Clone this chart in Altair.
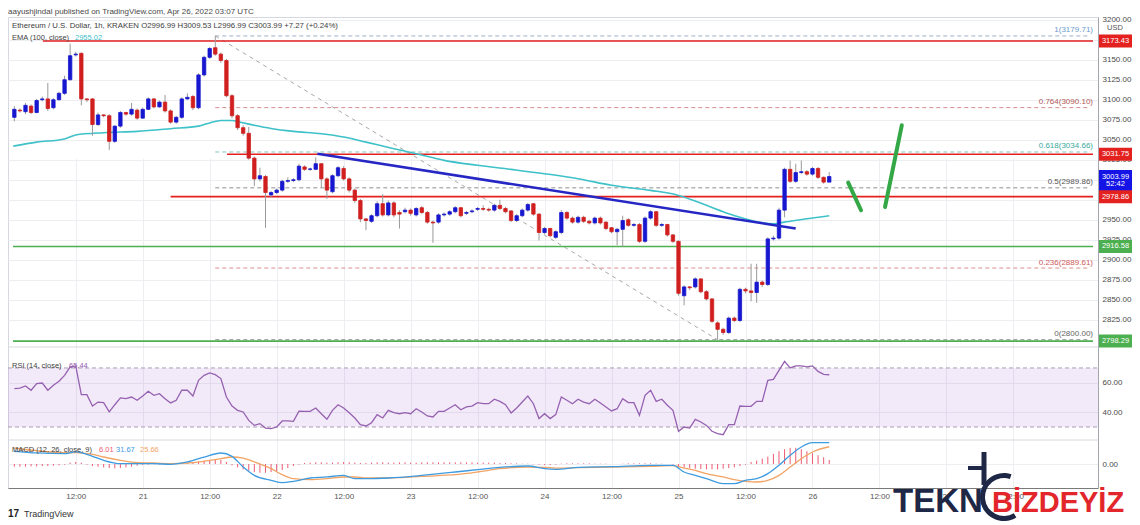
import altair as alt
import pandas as pd

# ---------------- data ----------------
open_ = [3078, 3087, 3085, 3092, 3084, 3100, 3101, 3090, 3100, 3108,
         3125, 3156, 3158, 3101, 3101, 3069, 3081, 3080, 3048, 3067,
         3084, 3082, 3087, 3077, 3088, 3101, 3091, 3097, 3086, 3072,
         3078, 3101, 3104, 3090, 3131, 3153, 3165, 3157, 3149, 3105,
         3080, 3065, 3058, 3027, 3001, 3004, 2981, 2984, 2987, 2998,
         2999, 3000, 3016, 3013, 3013, 3020, 3001, 2985, 3005, 3014,
         3001, 2987, 2974, 2951, 2948, 2955, 2970, 2956, 2971, 2959,
         2960, 2962, 2956, 2965, 2959, 2947, 2947, 2956, 2957, 2960,
         2965, 2958, 2960, 2963, 2964, 2963, 2962, 2968, 2964, 2961,
         2949, 2955, 2962, 2970, 2957, 2934, 2939, 2928, 2934, 2959,
         2952, 2947, 2953, 2948, 2946, 2952, 2947, 2940, 2935, 2938,
         2950, 2943, 2944, 2923, 2952, 2960, 2943, 2944, 2931, 2923,
         2855, 2866, 2866, 2876, 2860, 2851, 2821, 2813, 2809, 2827,
         2824, 2863, 2861, 2859, 2872, 2869, 2926, 2927, 2962, 3013,
         2998, 3009, 3010, 3007, 3014, 3003, 2996.99]
high = [3092, 3089, 3096, 3094, 3101, 3104, 3121, 3102, 3110, 3130,
        3170, 3160, 3159, 3102, 3102, 3084, 3082, 3082, 3068, 3086,
        3085, 3096, 3089, 3090, 3103, 3102, 3099, 3106, 3088, 3080,
        3103, 3108, 3106, 3133, 3155, 3166, 3179.71, 3159, 3151, 3107,
        3082, 3068, 3066, 3029, 3015, 3006, 2986, 2989, 3000, 3003,
        3002, 3020, 3018, 3015, 3028, 3021, 3003, 3007, 3017, 3017,
        3003, 2989, 2976, 2952, 2957, 2973, 2982, 2974, 2973, 2962,
        2965, 2964, 2966, 2967, 2961, 2949, 2958, 2959, 2962, 2967,
        2966, 2961, 2963, 2966, 2968, 2965, 2970, 2975, 2966, 2962,
        2957, 2964, 2971, 2971, 2958, 2941, 2940, 2937, 2962, 2961,
        2954, 2955, 2955, 2950, 2954, 2954, 2948, 2941, 2940, 2955,
        2952, 2946, 2946, 2954, 2962, 2961, 2946, 2945, 2932, 2924,
        2868, 2867, 2878, 2877, 2862, 2852, 2823, 2815, 2829, 2829,
        2865, 2865, 2895, 2895, 2874, 2928, 2930, 2965, 3015, 3024,
        3020, 3024, 3012, 3016, 3016, 3004, 3009.53]
low = [3073, 3084, 3082, 3082, 3083, 3098, 3086, 3088, 3099, 3106,
       3124, 3154, 3093, 3097, 3055, 3067, 3078, 3037, 3046, 3065,
       3080, 3080, 3075, 3076, 3087, 3089, 3090, 3084, 3070, 3070,
       3076, 3100, 3087, 3088, 3129, 3151, 3155, 3146, 3103, 3077,
       3062, 3055, 3025, 2992, 2998, 2940, 2978, 2982, 2985, 2996,
       2997, 2998, 3011, 3011, 3012, 2990, 2976, 2983, 3003, 2999,
       2984, 2971, 2947, 2937, 2946, 2953, 2954, 2954, 2953, 2939,
       2958, 2955, 2954, 2957, 2945, 2921, 2945, 2954, 2955, 2958,
       2953, 2956, 2958, 2961, 2961, 2960, 2960, 2962, 2958, 2947,
       2947, 2953, 2960, 2955, 2924, 2932, 2928, 2926, 2932, 2950,
       2945, 2945, 2946, 2944, 2944, 2944, 2937, 2933, 2918, 2916,
       2941, 2941, 2921, 2921, 2950, 2941, 2941, 2929, 2921, 2855,
       2843, 2862, 2864, 2858, 2849, 2821, 2800, 2806, 2807, 2822,
       2822, 2858, 2848, 2846, 2866, 2867, 2924, 2925, 2953, 2996,
       2996, 3007, 3005, 3005, 3001, 2995, 2996.99]
close = [3088, 3086, 3093, 3084, 3099, 3101, 3089, 3100, 3108, 3125,
         3155, 3157, 3101, 3100, 3069, 3081, 3080, 3048, 3067, 3084,
         3082, 3088, 3077, 3088, 3101, 3091, 3097, 3086, 3072, 3078,
         3101, 3103, 3090, 3131, 3153, 3164, 3157, 3149, 3105, 3080,
         3065, 3058, 3027, 3001, 3005, 2984, 2984, 2987, 2998, 2999,
         3000, 3017, 3013, 3013.5, 3020, 3001, 2987, 3005, 3015, 3001,
         2987, 2974, 2951, 2949, 2955, 2970, 2956, 2971, 2956, 2957,
         2962, 2958, 2964, 2959, 2947, 2946, 2956, 2957, 2960, 2965,
         2955, 2959, 2961, 2964, 2963, 2962, 2968, 2964, 2960, 2949,
         2955, 2962, 2969, 2957, 2934, 2939, 2930, 2935, 2959, 2952,
         2947, 2953, 2948, 2946, 2952, 2946, 2939, 2935, 2938, 2949,
         2943, 2944, 2923, 2952, 2960, 2943, 2944, 2931, 2923, 2858,
         2866, 2865, 2876, 2860, 2851, 2823, 2813, 2809, 2827, 2824,
         2863, 2861, 2859, 2872, 2869, 2926, 2927, 2962, 3013, 2998,
         3009, 3010, 3007, 3014, 3003, 2997, 3003.99]
hours = list(range(1, len(close) + 1))

rsi = [56.0, 56.4, 57.8, 54.9, 59.4, 59.8, 54.9, 58.3, 61.0, 65.0,
       70.7, 71.4, 51.9, 51.9, 44.2, 46.9, 46.5, 40.2, 45.1, 49.7,
       49.2, 50.3, 48.1, 51.0, 54.2, 51.5, 52.6, 49.2, 46.3, 48.1,
       54.9, 54.9, 51.0, 61.6, 65.0, 66.6, 65.5, 62.8, 50.3, 44.2,
       41.3, 40.2, 34.5, 31.1, 32.3, 29.3, 28.9, 30.0, 34.1, 34.1,
       33.8, 40.8, 40.6, 40.6, 42.9, 39.0, 35.2, 41.3, 45.1, 42.9,
       39.7, 36.1, 31.6, 30.7, 32.9, 38.4, 36.1, 41.3, 39.7, 39.0,
       39.7, 39.0, 42.4, 40.2, 37.5, 36.8, 40.6, 40.6, 42.9, 45.1,
       41.7, 43.6, 44.2, 46.5, 45.8, 45.8, 48.8, 47.4, 45.1, 39.5,
       42.9, 46.9, 51.0, 45.8, 35.7, 39.0, 35.7, 38.4, 50.3, 48.1,
       45.8, 48.8, 46.9, 45.8, 48.8, 46.3, 43.6, 40.9, 42.4, 49.2,
       46.5, 46.5, 37.9, 51.5, 54.9, 47.4, 48.8, 44.7, 41.3, 27.1,
       30.0, 29.3, 35.2, 33.4, 31.1, 27.1, 25.5, 24.8, 31.6, 31.6,
       44.2, 44.0, 44.0, 47.4, 47.4, 61.6, 62.3, 68.4, 74.5, 70.0,
       71.4, 71.4, 70.7, 71.4, 67.7, 65.7, 65.4]

hist = [-4, -4, -4, -3.5, -3.5, -3, -3, -2.5, -2, -1,
        2, 3, 2,
        -1, -3, -4, -5, -6, -6.5, -6, -5, -4, -2.5,
        -1.5, -1, -0.5, -0.5, 0.5, 0.5, 1, 1, 1.5, 2,
        4, 5, 6, 6.5, 6, 3,
        -2, -5, -8, -10, -12, -13, -13, -12, -11, -9, -6,
        -3, -1,
        1.5, 2, 2.5, 2.5, 2, 2, 2.5, 3, 2.5, 2, 1.5, 1.5, 2, 2.5, 2.5, 2, 2, 2.5, 2.5, 2, 2,
        2.5, 2.5, 2.5, 2.5, 2.5, 2.5, 2.5, 2.5, 2.5, 2.5, 2, 2, 2, 2, 1.5, 1.5, 1, 1, 0.5, 0.5,
        -0.5, -1, -1.5, -1.5, -1,
        0.5, 1, 1, 1, 1, 1, 0.5, 0.5, 0.5,
        0, 0, 0.5, 1, 1, 1, 1, 1, 0.5, 0.5, 0,
        -1, -3, -5, -6, -7, -7.5, -8, -8, -8, -7, -6, -5, -3,
        -1, 3, 5, 8, 11, 15, 19, 22, 24, 24, 22, 19, 16, 13, 10, 6.01]

ema_t = [0.8, 5, 10, 12, 17, 23, 29, 34, 36, 38, 40, 41.4, 44, 47, 51, 56, 60, 64,
         69, 73, 78, 84, 90, 96, 102, 108, 115, 120, 125, 129, 133, 137, 139, 143, 147]
ema_v = [3042, 3047, 3051, 3056, 3058.8, 3060.4, 3063.8, 3067, 3071, 3074, 3074, 3072,
         3068, 3064, 3060.4, 3057.5, 3053.4, 3047, 3038.8, 3032.5, 3024.2, 3018, 3012.9,
         3007.5, 3001.3, 2993, 2986.7, 2980.4, 2968, 2957.5, 2949.2, 2945, 2947, 2951.3, 2955.02]

macd_t = [1, 5, 10, 12, 15, 17, 20, 23, 26, 29, 32, 35, 38, 40, 42, 44, 47, 49, 51, 54,
          57, 60, 62, 64, 68, 70, 74, 80, 84, 88, 93, 96, 98, 102, 108, 115, 119, 121, 123, 125,
          128, 130, 132, 134, 136, 138, 140, 142, 144, 147]
macd_v = [18.9, 16.4, 15.4, 17.9, 11.4, 5.5, 0.5, 0.5, 0.5, -0.5, 3.0, 10.4, 16.4, 11.4, -4.5,
          -16.9, -24.3, -27.8, -25.8, -20.8, -19.3, -16.9, -21.8, -21.8, -20.8, -19.8, -16.9,
          -11.9, -8.4, -5.0, -3.0, -7.0, -7.9, -5.0, -4.0, -2.0, -2.0, -11.9, -16.9, -21.8,
          -29.3, -29.3, -24.3, -21.8, -14.4, -2.0, 12.9, 25.3, 31.7, 31.67]
signal_v = [23.8, 19.8, 16.9, 16.9, 14.4, 10.4, 5.5, 2.0, 1.5, 0.5, 1.5, 4.0, 7.9, 10.4, 8.9,
            3.0, -7.0, -15.9, -21.8, -23.3, -21.8, -19.3, -19.3, -20.8, -20.8, -20.3, -18.3,
            -15.9, -11.9, -7.0, -4.5, -5.0, -6.0, -5.5, -4.5, -3.5, -2.5, -6.0, -9.4, -14.4,
            -19.3, -23.3, -25.8, -26.8, -24.3, -16.9, -4.5, 7.9, 17.9, 25.66]

fib_labels = ["1(3179.71)", "0.764(3090.10)", "0.618(3034.66)", "0.5(2989.86)",
              "0.236(2889.61)", "0(2800.00)"]
fib_prices = [3179.71, 3090.10, 3034.66, 2989.86, 2889.61, 2800.00]
fib_line_colors = ["#9db0c8", "#d38c8c", "#80c8bf", "#8f8f8f", "#de8e8e", "#8f8f8f"]
fib_text_colors = ["#6b9cd0", "#b05858", "#3aa99c", "#555555", "#d05a5a", "#666666"]
fib_start, fib_end = 37, 193.4

level_prices = [3173.43, 3031.75, 2978.86, 2916.58, 2798.29]
level_starts = [6.1, 39.1, 29.0, 0.76, 0.76]
level_colors = ["#e3211f", "#e3211f", "#e3211f", "#4caf50", "#4caf50"]
level_labels = ["3173.43", "3031.75", "2978.86", "2916.58", "2798.29"]

trend_t = [55.3, 141.0]
trend_p = [3032.5, 2939.0]
diag_t = [37, 127]
diag_p = [3179.71, 2800.00]
pen_t1 = [150.4, 157.0]
pen_p1 = [2996.3, 2965.9]
pen_t2 = [152.7, 160.0]
pen_p2 = [2961.8, 3068.0]

grid_ticks = [2825, 2850, 2875, 2900, 2925, 2950, 2975, 3000, 3025, 3050, 3075,
              3100, 3125, 3150, 3175, 3200]
label_ticks = [2825, 2850, 2875, 2900, 2925, 2950, 3025, 3050, 3075,
               3100, 3125, 3150, 3200]
time_ticks = [12, 24, 36, 48, 60, 72, 84, 96, 108, 120, 132, 144, 156, 168, 180]

# ---------------- styling ----------------
FONT = "Liberation Sans"
W, H = 1090, 471
BLUE, RED = "#1717cf", "#d11f1f"
TXT = "#3e3e3e"

XS = alt.Scale(domain=[0.76, 194.26], nice=False, zero=False)
PS = alt.Scale(domain=[2790.9, 3203.4], range=[330, 0], nice=False, zero=False)
RS = alt.Scale(domain=[21.2, 84.2], range=[423, 330], nice=False, zero=False)
MS = alt.Scale(domain=[-35.7, 35.7], range=[471, 423], nice=False, zero=False)

XAX = alt.Axis(values=time_ticks, title=None, grid=True, gridColor="#eceef2", ticks=False,
               domainColor="#7a7a7a", labelColor="#555555", labelFontSize=8, labelFont=FONT,
               labelPadding=4, labelFlush=False, labelOverlap=False,
               labelExpr="datum.value % 24 == 0 ? '' + (20 + datum.value / 24) : '12:00'")


def yax(vals, grid=True):
    return alt.Axis(orient="right", values=vals, format=".2f", title=None, grid=grid,
                    gridColor="#eceef2", ticks=False, domainColor="#a3a6ad",
                    labelColor="#4a4a4a", labelFontSize=8, labelFont=FONT, labelPadding=4)


GRID_ONLY = alt.Axis(orient="right", values=grid_ticks, title=None, grid=True, gridColor="#eceef2",
                     ticks=False, labels=False, domain=False)


def X(f):
    return alt.X(f, type="quantitative", scale=XS, axis=XAX)


def Y(f, scale, axis=None):
    return alt.Y(f, type="quantitative", scale=scale, axis=axis)


one = pd.DataFrame({"a": [0]})
candles = pd.DataFrame({"t": hours, "o": open_, "h": high, "l": low, "c": close})
candles["dir"] = ["up" if c >= o else "down" for o, c in zip(open_, close)]
dir_scale = alt.Scale(domain=["up", "down"], range=[BLUE, RED])

layers = []

# RSI band
layers.append(alt.Chart(pd.DataFrame({"lo": [30], "hi": [70]})).mark_rect(
    color="#a060d0", opacity=0.13).encode(
    x=alt.value(0), x2=alt.value(W), y=Y("lo", RS), y2="hi"))
# panel separators
for yy in (330, 423):
    layers.append(alt.Chart(one).mark_rule(color="#d6d8dd", strokeWidth=1).encode(
        x=alt.value(0), x2=alt.value(W), y=alt.value(yy)))

# fib lines
fib_df = pd.DataFrame({"p": fib_prices, "s": fib_start, "e": fib_end,
                       "lc": fib_line_colors, "tc": fib_text_colors, "lab": fib_labels})
layers.append(alt.Chart(fib_df).mark_rule(strokeDash=[4, 3], strokeWidth=1).encode(
    x=X("s"), x2="e", y=Y("p", PS, GRID_ONLY), color=alt.Color("lc:N", scale=None)))
# diagonal fib trend
diag_df = pd.DataFrame({"t": [diag_t[0]], "t2": [diag_t[1]], "p": [diag_p[0]], "p2": [diag_p[1]]})
layers.append(alt.Chart(diag_df).mark_rule(strokeDash=[4, 4], color="#a8a8a8", strokeWidth=1).encode(
    x=X("t"), x2="t2", y=Y("p", PS), y2="p2"))

# horizontal support / resistance lines
lev_df = pd.DataFrame({"p": level_prices, "s": level_starts, "e": 194.26,
                       "col": level_colors, "lab": level_labels})
layers.append(alt.Chart(lev_df).mark_rule(strokeWidth=1.6).encode(
    x=X("s"), x2="e", y=Y("p", PS), color=alt.Color("col:N", scale=None)))

# EMA 100
ema_df = pd.DataFrame({"t": ema_t, "v": ema_v})
layers.append(alt.Chart(ema_df).mark_line(color="#3ec1c8", strokeWidth=1.6,
                                           interpolate="monotone").encode(
    x=X("t"), y=Y("v", PS)))

# candles
layers.append(alt.Chart(candles).mark_rule(color="#9a9a9a", strokeWidth=1).encode(
    x=X("t"), y=Y("l", PS), y2="h"))
layers.append(alt.Chart(candles).mark_bar(width=3.4, strokeWidth=0.8).encode(
    x=X("t"), y=Y("o", PS, yax(label_ticks, grid=False)), y2="c",
    color=alt.Color("dir:N", scale=dir_scale, legend=None),
    stroke=alt.Stroke("dir:N", scale=dir_scale, legend=None)))

# blue trend line
tr_df = pd.DataFrame({"t": [trend_t[0]], "t2": [trend_t[1]], "p": [trend_p[0]], "p2": [trend_p[1]]})
layers.append(alt.Chart(tr_df).mark_rule(color="#2626c4", strokeWidth=2.6).encode(
    x=X("t"), x2="t2", y=Y("p", PS), y2="p2"))

# green pen strokes
pen_df = pd.DataFrame({"t": pen_t1, "t2": pen_t2, "p": pen_p1, "p2": pen_p2})
layers.append(alt.Chart(pen_df).mark_rule(color="#34a846", strokeWidth=4, strokeCap="round").encode(
    x=X("t"), x2="t2", y=Y("p", PS), y2="p2"))

# RSI
layers.append(alt.Chart(pd.DataFrame({"v": [30, 70]})).mark_rule(
    strokeDash=[4, 3], color="#aa9db4", strokeWidth=1).encode(
    x=alt.value(0), x2=alt.value(W), y=Y("v", RS)))
rsi_df = pd.DataFrame({"t": hours, "r": rsi})
layers.append(alt.Chart(rsi_df).mark_line(color="#9561b0", strokeWidth=1.3).encode(
    x=X("t"), y=Y("r", RS, yax([40, 60]))))

# MACD
hist_df = pd.DataFrame({"t": hours, "h": hist, "z": 0})
layers.append(alt.Chart(hist_df).mark_rule(color="#ec5a72", strokeWidth=1).encode(
    x=X("t"), y=Y("z", MS), y2="h"))
macd_df = pd.DataFrame({"t": macd_t, "m": macd_v, "s": signal_v})
layers.append(alt.Chart(macd_df).mark_line(color="#f2a465", strokeWidth=1.3,
                                            interpolate="monotone").encode(
    x=X("t"), y=Y("s", MS)))
layers.append(alt.Chart(macd_df).mark_line(color="#3d9be0", strokeWidth=1.3,
                                            interpolate="monotone").encode(
    x=X("t"), y=Y("m", MS, yax([0]))))

# fib labels
layers.append(alt.Chart(fib_df).mark_text(align="right", baseline="bottom", dy=-1.5,
                                           fontSize=8, font=FONT).encode(
    x=alt.value(1085), y=Y("p", PS), text="lab:N", color=alt.Color("tc:N", scale=None)))

# price-axis label boxes
BOX = "M-1,-0.394H1V0.394H-1Z"
layers.append(alt.Chart(pd.DataFrame({"p": [3003.99]})).mark_point(
    shape="M-1,-0.394H1V0.94H-1Z", size=1089, filled=True, opacity=1, color="#1414e6").encode(
    x=alt.value(1107.5), y=Y("p", PS)))
layers.append(alt.Chart(lev_df).mark_point(shape=BOX, size=1089, filled=True, opacity=1).encode(
    x=alt.value(1107.5), y=Y("p", PS), color=alt.Color("col:N", scale=None)))
box_txt = pd.DataFrame({"p": level_prices + [3003.99, 2994.6],
                        "lab": level_labels + ["3003.99", "52:42"]})
layers.append(alt.Chart(box_txt).mark_text(color="white", fontSize=7.5, font=FONT,
                                            align="center", baseline="middle").encode(
    x=alt.value(1107.5), y=Y("p", PS), text="lab:N"))
layers.append(alt.Chart(pd.DataFrame({"p": [3189.6], "lab": ["USD"]})).mark_text(
    color="#555555", fontSize=7.5, font=FONT, align="center", baseline="middle").encode(
    x=alt.value(1107), y=Y("p", PS), text="lab:N"))


# texts
def txt(s, x, y, color=TXT, size=7.5, weight="normal", align="left", font=FONT, baseline="middle"):
    return alt.Chart(one).mark_text(text=s, color=color, fontSize=size, fontWeight=weight,
                                    align=align, baseline=baseline, font=font).encode(
        x=alt.value(x), y=alt.value(y))


layers += [
    txt("aayushjindal published on TradingView.com, Apr 26, 2022 03:07 UTC", 0, -5, "#4a4a4a", 8),
    txt("Ethereum / U.S. Dollar, 1h, KRAKEN  O2996.99  H3009.53  L2996.99  C3003.99  +7.27 (+0.24%)",
        4, 8.5, TXT, 7.8),
    txt("EMA (100, close)", 4, 20.5),
    txt("2955.02", 67, 20.5, "#3ec1c8"),
    txt("RSI (14, close)", 4, 349),
    txt("65.44", 61, 349, "#9561b0"),
    txt("MACD (12, 26, close, 9)", 4, 433),
    txt("6.01", 91, 433, "#ec5a72"),
    txt("31.67", 108, 433, "#3d9be0"),
    txt("25.66", 132, 433, "#f2a465"),
    txt("17", 0, 497, "#222222", 10, "bold"),
    txt("TradingView", 16, 497, "#333333", 9),
]

# watermark
NAVY = "#1e2745"
layers.append(alt.Chart(one).mark_arc(radius=24, radius2=19, theta=2.6, theta2=6.6,
                                       color=NAVY).encode(x=alt.value(996), y=alt.value(480)))
layers.append(alt.Chart(one).mark_rule(color=NAVY, strokeWidth=5).encode(
    x=alt.value(976), x2=alt.value(976), y=alt.value(435), y2=alt.value(468)))
layers.append(alt.Chart(one).mark_rule(color=NAVY, strokeWidth=4).encode(
    x=alt.value(960), x2=alt.value(976), y=alt.value(451), y2=alt.value(451)))
layers.append(txt("TEKN", 885, 495, NAVY, 33, "bold", baseline="alphabetic"))
layers.append(txt("BİZDEYİZ", 984, 495, "#e3262b", 29, "bold", baseline="alphabetic"))

chart = alt.layer(*layers).properties(
    width=W, height=H,
    padding={"left": 0, "top": 9, "right": 34, "bottom": 35},
    autosize=alt.AutoSizeParams(type="none"),
).resolve_scale(y="independent").configure_view(stroke="#d5d8de", strokeWidth=1)

chart.save("out.html", embed_options={"renderer": "svg", "actions": False})
